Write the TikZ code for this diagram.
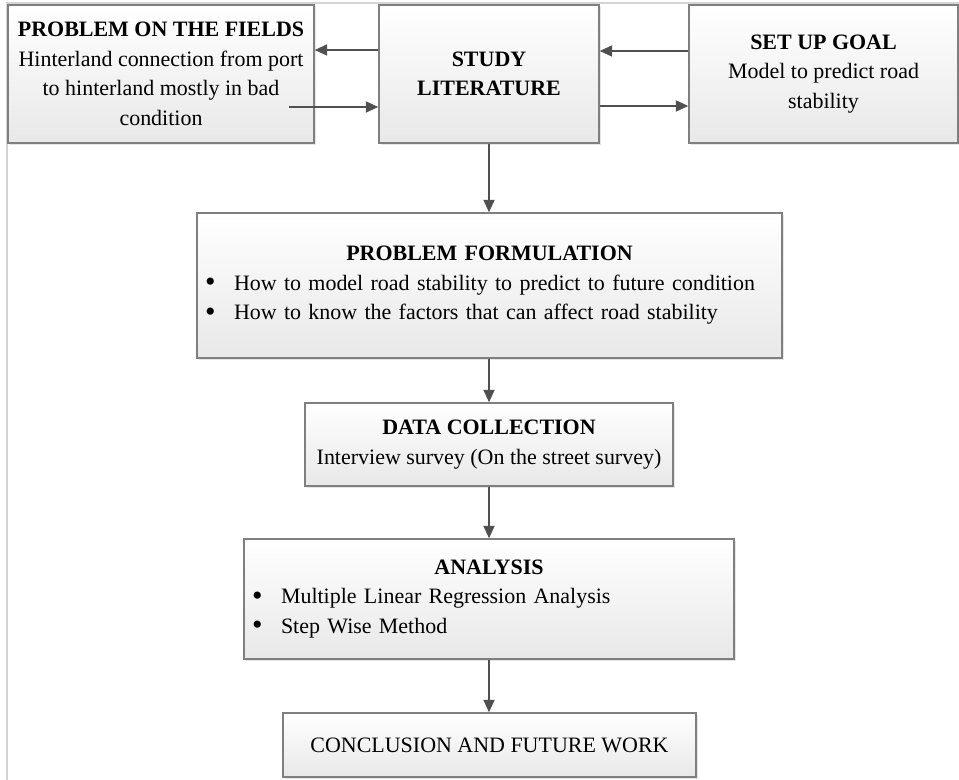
\documentclass[tikz,border=0pt]{standalone}
\usepackage{fontspec}
\setmainfont{Liberation Serif}
\usepackage{tikz}
\usetikzlibrary{arrows.meta,shadows}

\definecolor{boxline}{HTML}{7F7F7F}
\definecolor{arrowgray}{HTML}{505050}
\definecolor{framegray}{HTML}{D4D4D4}
\newcommand{\bitem}[1]{\makebox[0.58cm][l]{\raisebox{-0.15ex}{\fontsize{17}{17}\selectfont\textbullet}}#1}
\newcommand{\bhead}[1]{\hbox to \hsize{\hfil\textbf{#1}\hfil}}

\tikzset{
  box/.style={draw=boxline, line width=0.8pt, top color=white, bottom color=black!9,
    drop shadow={shadow xshift=0.04cm, shadow yshift=-0.04cm, opacity=0.2},
    inner sep=0.16cm, font=\fontsize{12.5}{16.8}\selectfont, align=center},
  flow/.style={-{Triangle[length=0.25cm,width=0.22cm]}, draw=arrowgray, line width=1.1pt}
}

\begin{document}
\begin{tikzpicture}
    \useasboundingbox (0,0) rectangle (19.18,-15.6);
    \draw[framegray, line width=1.2pt] (0.14,-15.6) -- (0.14,-0.06) -- (19.18,-0.06);

    \node[box, minimum width=6.12cm, minimum height=2.76cm] (F) at (3.22,-1.48)
      {\textbf{PROBLEM ON THE FIELDS}\\Hinterland connection from port\\to hinterland mostly in bad\\condition};
    \node[box, minimum width=4.40cm, minimum height=2.76cm] (L) at (9.78,-1.48)
      {\textbf{STUDY}\\\textbf{LITERATURE}};
    \node[box, minimum width=5.38cm, minimum height=2.76cm] (G) at (16.47,-1.48)
      {\textbf{SET UP GOAL}\\Model to predict road\\stability};
    \node[box, minimum height=2.90cm, text width=11.38cm, align=left] (PF) at (9.79,-5.71)
      {\bhead{PROBLEM FORMULATION}\\
       \bitem{How to model road stability to predict to future condition}\\
       \bitem{How to know the factors that can affect road stability}};
    \node[box, minimum width=7.36cm, minimum height=1.66cm] (DC) at (9.78,-8.89)
      {\textbf{DATA COLLECTION}\\Interview survey (On the street survey)};
    \node[box, minimum height=2.40cm, text width=9.48cm, align=left] (A) at (9.78,-11.98)
      {\bhead{ANALYSIS}\\
       \bitem{Multiple Linear Regression Analysis}\\
       \bitem{Step Wise Method}};
    \node[box, minimum width=8.26cm, minimum height=1.28cm] (C) at (9.79,-14.90)
      {CONCLUSION AND FUTURE WORK};

    \draw[flow] ([yshift=0.48cm]L.west)--([yshift=0.48cm]F.east);
    \draw[flow] ([xshift=-0.52cm, yshift=-0.66cm]F.east)--([yshift=-0.66cm]L.west);
    \draw[flow] ([yshift=0.46cm]G.west)--([yshift=0.46cm]L.east);
    \draw[flow] ([yshift=-0.64cm]L.east)--([yshift=-0.64cm]G.west);
    \draw[flow] (L.south)--(L.south |- PF.north);
    \draw[flow] (L.south |- PF.south)--(L.south |- DC.north);
    \draw[flow] (L.south |- DC.south)--(L.south |- A.north);
    \draw[flow] (L.south |- A.south)--(L.south |- C.north);
  \end{tikzpicture}
\end{document}
